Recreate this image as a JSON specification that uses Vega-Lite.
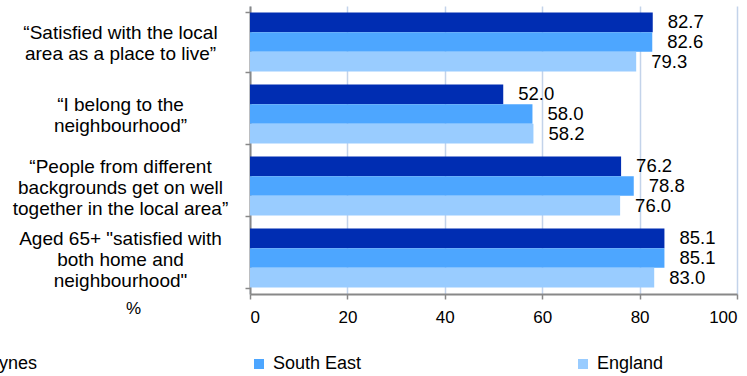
{
  "$schema": "https://vega.github.io/schema/vega-lite/v6.json",
  "width": 487,
  "height": 288,
  "autosize": {"type": "none"},
  "padding": {"left": 250, "top": 6, "right": 10, "bottom": 82},
  "background": "white",
  "config": {"font": "Liberation Sans", "view": {"stroke": null}},
  "data": {
    "values": [
      {"question": "“Satisfied with the local\narea as a place to live”", "area": "Milton Keynes", "value": 82.7},
      {"question": "“Satisfied with the local\narea as a place to live”", "area": "South East", "value": 82.6},
      {"question": "“Satisfied with the local\narea as a place to live”", "area": "England", "value": 79.3},
      {"question": "“I belong to the\nneighbourhood”", "area": "Milton Keynes", "value": 52.0},
      {"question": "“I belong to the\nneighbourhood”", "area": "South East", "value": 58.0},
      {"question": "“I belong to the\nneighbourhood”", "area": "England", "value": 58.2},
      {"question": "“People from different\nbackgrounds get on well\ntogether in the local area”", "area": "Milton Keynes", "value": 76.2},
      {"question": "“People from different\nbackgrounds get on well\ntogether in the local area”", "area": "South East", "value": 78.8},
      {"question": "“People from different\nbackgrounds get on well\ntogether in the local area”", "area": "England", "value": 76.0},
      {"question": "Aged 65+ \"satisfied with\nboth home and\nneighbourhood\"", "area": "Milton Keynes", "value": 85.1},
      {"question": "Aged 65+ \"satisfied with\nboth home and\nneighbourhood\"", "area": "South East", "value": 85.1},
      {"question": "Aged 65+ \"satisfied with\nboth home and\nneighbourhood\"", "area": "England", "value": 83.0}
    ]
  },
  "encoding": {
    "y": {
      "field": "question",
      "type": "nominal",
      "sort": null,
      "scale": {"paddingInner": 0.18, "paddingOuter": 0.09},
      "axis": {
        "title": null,
        "labelExpr": "isValid(datum.value) ? split(datum.value, '\\n') : ''",
        "labelAlign": "center",
        "labelBaseline": "middle",
        "labelOffset": {"condition": {"test": "isValid(datum.value) && length(split(datum.value, '\\n')) == 3", "value": -20}, "value": -9.5},
        "labelPadding": 125,
        "labelFontSize": 19,
        "labelColor": "black",
        "labelLineHeight": 21,
        "labelLimit": 0,
        "domainColor": "#888888",
        "domainWidth": 2,
        "tickColor": "#888888",
        "tickWidth": 1.5,
        "tickSize": 5,
        "tickBand": "extent",
        "grid": false
      }
    },
    "yOffset": {"field": "area", "type": "nominal", "sort": ["Milton Keynes", "South East", "England"]},
    "x": {
      "field": "value",
      "type": "quantitative",
      "scale": {"domain": [0, 100]},
      "axis": {
        "values": [0, 20, 40, 60, 80, 100],
        "grid": true,
        "gridColor": "#C3D3EA",
        "gridWidth": 1.5,
        "domainColor": "#888888",
        "domainWidth": 2,
        "tickColor": "#888888",
        "tickWidth": 1.5,
        "tickSize": 5,
        "labelFontSize": 17,
        "labelColor": "black",
        "labelPadding": 10,
        "labelOverlap": false,
        "labelBound": false,
        "title": "%",
        "titleX": -117,
        "titleY": 14,
        "titleAlign": "center",
        "titleBaseline": "middle",
        "titleFontWeight": "normal",
        "titleFontSize": 17,
        "titleColor": "black"
      }
    }
  },
  "layer": [
    {
      "mark": {"type": "bar"},
      "encoding": {
        "color": {
          "field": "area",
          "type": "nominal",
          "scale": {"domain": ["Milton Keynes", "South East", "England"], "range": ["#002DB2", "#4DA6FF", "#99CCFF"]},
          "legend": {
            "title": null,
            "orient": "none",
            "legendX": -349,
            "legendY": 349,
            "direction": "horizontal",
            "columns": 3,
            "gridAlign": "each",
            "columnPadding": 212,
            "padding": 0,
            "symbolType": "square",
            "symbolSize": 100,
            "symbolStrokeWidth": 0,
            "labelFontSize": 18,
            "labelColor": "black",
            "labelOffset": 5,
            "labelLimit": 0
          }
        }
      }
    },
    {
      "mark": {"type": "text", "align": "left", "baseline": "middle", "dx": 15, "fontSize": 18.5, "color": "black"},
      "encoding": {"text": {"field": "value", "type": "quantitative", "format": ".1f"}}
    }
  ]
}
